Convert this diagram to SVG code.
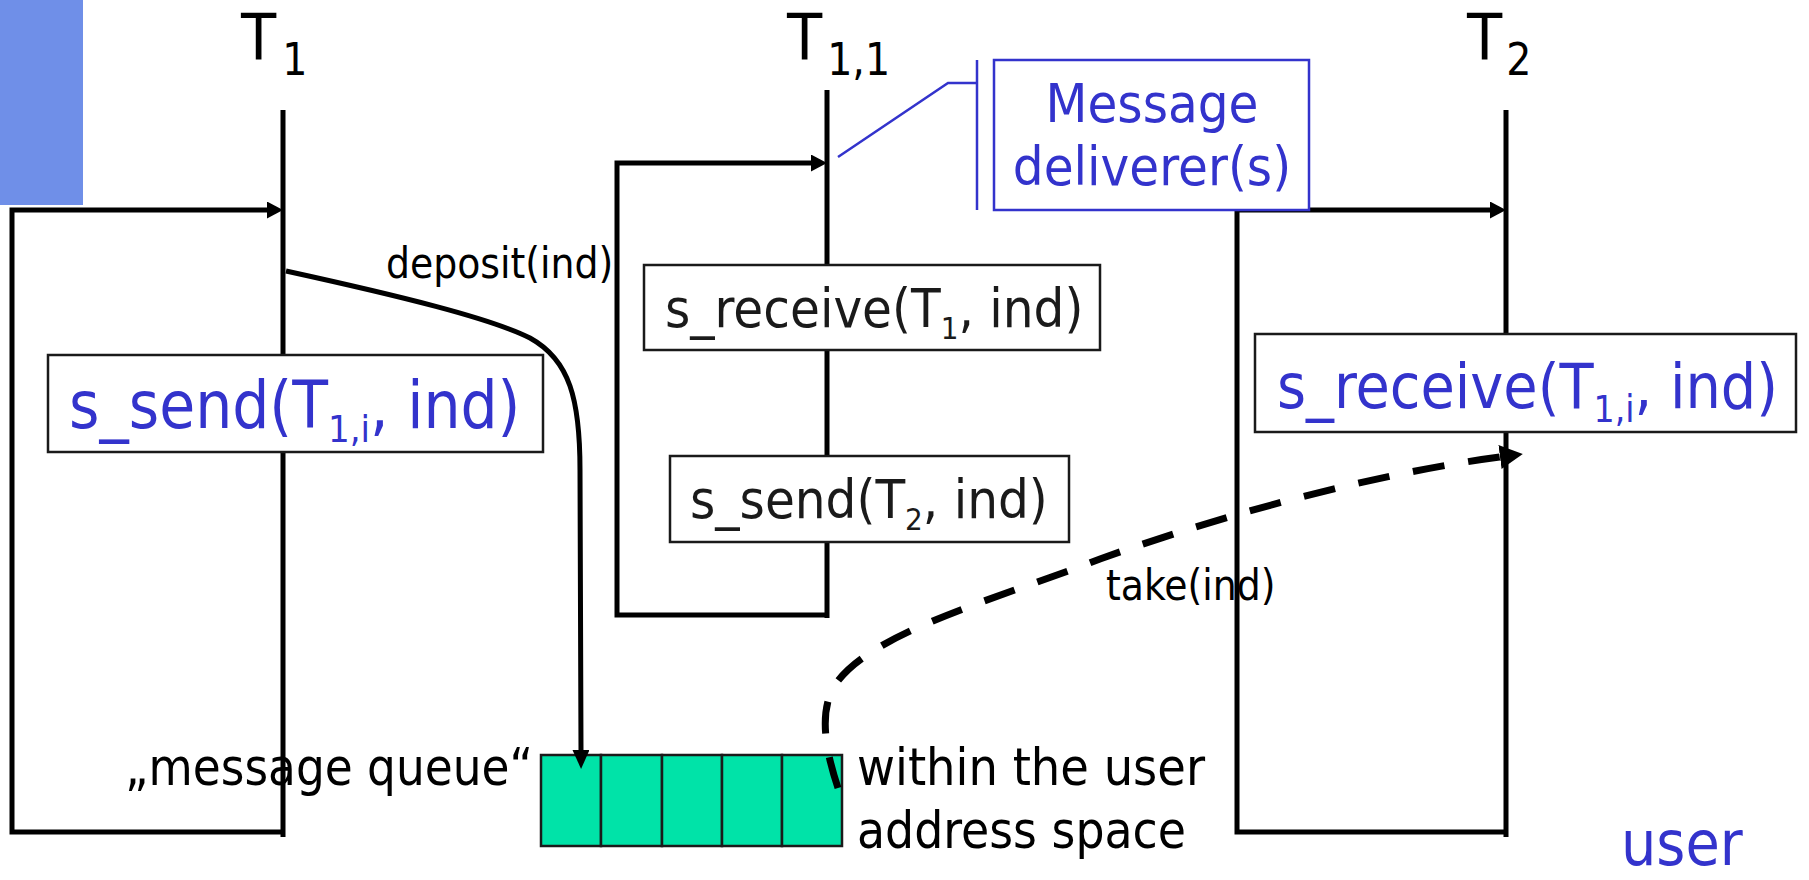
<svg xmlns="http://www.w3.org/2000/svg" width="1809" height="880" viewBox="0 0 1809 880">
  <style>
    text { font-family: 'DejaVu Sans Condensed', 'DejaVu Sans', sans-serif; font-stretch: condensed; }
    .lab { fill: #000000; font-size: 64px; }
    .sub { font-size: 44px; }
    .fnb { fill: #3333cc; }
    .fnk { fill: #1a1a1a; font-size: 54px; }
    .small { fill: #000000; font-size: 42px; }
    .note { fill: #000000; font-size: 52px; }
    .life { stroke: #000000; stroke-width: 5; fill: none; }
    .frame { stroke: #000000; stroke-width: 5; fill: none; }
    .box { fill: #ffffff; stroke: #1a1a1a; stroke-width: 2.5; }
    .callout { fill: none; stroke: #3333cc; stroke-width: 2.5; }
    .cell { fill: #00e3a8; stroke: #1a1a1a; stroke-width: 2.5; }
  </style>
  <defs>
    <marker id="head" markerUnits="userSpaceOnUse" markerWidth="17" markerHeight="18" refX="0" refY="8.5" orient="auto">
      <path d="M0,0 L16,8.5 L0,17 Z" fill="#000000"/>
    </marker>
    <marker id="head-down" markerUnits="userSpaceOnUse" markerWidth="20" markerHeight="18" refX="0" refY="8.5" orient="auto">
      <path d="M0,0 L19,8.5 L0,17 Z" fill="#000000"/>
    </marker>
    <marker id="head-dash" markerUnits="userSpaceOnUse" markerWidth="24" markerHeight="26" refX="0" refY="12" orient="auto">
      <path d="M0,0 L23,12 L0,24 Z" fill="#000000"/>
    </marker>
  </defs>

  <!-- corner bar -->
  <rect x="0" y="0" width="83" height="205" fill="#6f8fe8"/>

  <!-- thread lifelines with their control frames -->
  <g id="thread-T1">
    <line class="life" x1="283" y1="110" x2="283" y2="837"/>
    <path class="frame" d="M283,832 L12,832 L12,210 L267,210" marker-end="url(#head)"/>
    <text class="lab" x="241" y="60">T<tspan class="sub" dx="6" dy="15">1</tspan></text>
  </g>

  <g id="thread-T11">
    <line class="life" x1="827" y1="90" x2="827" y2="618"/>
    <path class="frame" d="M827,615 L617,615 L617,163 L811,163" marker-end="url(#head)"/>
    <text class="lab" x="787" y="60">T<tspan class="sub" dx="5" dy="15">1,1</tspan></text>
  </g>

  <g id="thread-T2">
    <line class="life" x1="1506" y1="110" x2="1506" y2="837"/>
    <path class="frame" d="M1506,832 L1237,832 L1237,210 L1490,210" marker-end="url(#head)"/>
    <text class="lab" x="1467" y="60">T<tspan class="sub" dx="4" dy="15">2</tspan></text>
  </g>

  <!-- call boxes -->
  <g id="call-send-T1">
    <rect class="box" x="48" y="355" width="495" height="97"/>
    <text class="fnb" font-size="65" x="69" y="428">s_send(T<tspan font-size="38" dy="14">1,i</tspan><tspan dy="-14">, ind)</tspan></text>
  </g>

  <g id="call-receive-T11">
    <rect class="box" x="644" y="265" width="456" height="85"/>
    <text class="fnk" x="665" y="327">s_receive(T<tspan font-size="31" dy="12">1</tspan><tspan dy="-12">, ind)</tspan></text>
  </g>

  <g id="call-send-T11">
    <rect class="box" x="670" y="456" width="399" height="86"/>
    <text class="fnk" x="690" y="518">s_send(T<tspan font-size="31" dy="12">2</tspan><tspan dy="-12">, ind)</tspan></text>
  </g>

  <g id="call-receive-T2">
    <rect class="box" x="1255" y="334" width="541" height="98"/>
    <text class="fnb" font-size="62" x="1277" y="408">s_receive(T<tspan font-size="37" dy="14">1,i</tspan><tspan dy="-14">, ind)</tspan></text>
  </g>

  <!-- message deliverer callout -->
  <g id="deliverer-note">
    <path class="callout" d="M838,157 L948,83 L977,83"/>
    <line class="callout" x1="977" y1="60" x2="977" y2="210"/>
    <rect x="994" y="60" width="315" height="150" fill="#ffffff" stroke="#3333cc" stroke-width="2.5"/>
    <text fill="#3333cc" font-size="54" text-anchor="middle" x="1152" y="122">Message</text>
    <text fill="#3333cc" font-size="54" text-anchor="middle" x="1152" y="185">deliverer(s)</text>
  </g>

  <!-- message queue in user space -->
  <g id="message-queue">
    <rect class="cell" x="541" y="755" width="60" height="91"/>
    <rect class="cell" x="601" y="755" width="61" height="91"/>
    <rect class="cell" x="662" y="755" width="60" height="91"/>
    <rect class="cell" x="722" y="755" width="60" height="91"/>
    <rect class="cell" x="782" y="755" width="60" height="91"/>
    <text class="note" x="125" y="785" textLength="408" lengthAdjust="spacingAndGlyphs">„message queue“</text>
    <text class="note" x="857" y="785" textLength="348" lengthAdjust="spacingAndGlyphs">within the user</text>
    <text class="note" x="857" y="848" textLength="329" lengthAdjust="spacingAndGlyphs">address space</text>
  </g>

  <!-- message transfer connectors -->
  <g id="connectors">
    <path class="frame" d="M286,271 C400,296 490,318 530,338 C570,360 580,400 580,470 L581,750" marker-end="url(#head-down)"/>
    <path fill="none" stroke="#000000" stroke-width="7" stroke-dasharray="32 24"
          d="M838,788 C826,752 818,712 835,685 C870,632 1000,598 1100,559 C1250,505 1400,470 1500,457"
          marker-end="url(#head-dash)"/>
    <text class="small" x="386" y="278">deposit(ind)</text>
    <text class="small" x="1106" y="600">take(ind)</text>
  </g>

  <g id="space-label">
    <text fill="#3333cc" font-size="62" x="1621" y="865">user</text>
  </g>
</svg>
